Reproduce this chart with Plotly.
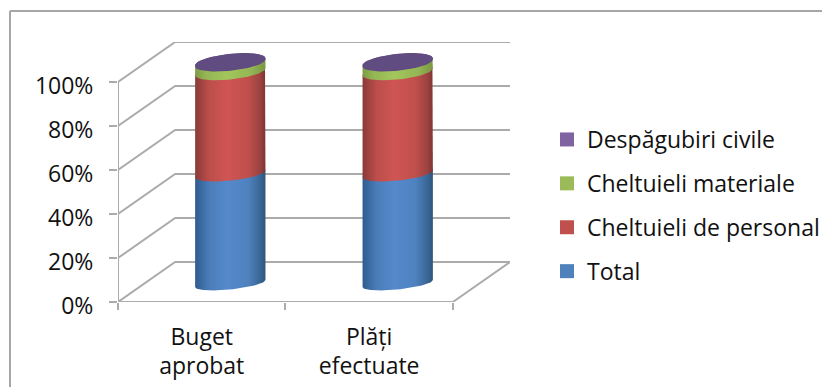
import math
import plotly.graph_objects as go

categories = ["Buget aprobat", "Plăți efectuate"]
label_line1 = ["Buget", "Plăți"]
label_line2 = ["aprobat", "efectuate"]
series_names = ["Total", "Cheltuieli de personal", "Cheltuieli materiale", "Despăgubiri civile"]
total_values = [49.5, 49.5]
personal_values = [46, 46]
materiale_values = [4, 4]
despagubiri_values = [0.5, 0.5]
y_ticks = [0, 20, 40, 60, 80, 100]

FONT = "Open Sans"
TXT = "#111111"
GRID = "#ababab"
legend_colors = ["#4f81bd", "#c0504d", "#9bbb59", "#8064a2"]
side_scales = [
    [[0, "#2f5c90"], [0.2, "#4a7db8"], [0.45, "#5489cb"], [0.75, "#4f82bf"], [0.92, "#3a6797"], [1, "#2d5578"]],
    [[0, "#8a3a38"], [0.2, "#bc4e4b"], [0.45, "#cf5553"], [0.75, "#c14f4c"], [0.92, "#9c4341"], [1, "#7f3432"]],
    [[0, "#7d9a45"], [0.15, "#94b554"], [0.45, "#a3c65c"], [0.8, "#94b554"], [1, "#7a9643"]],
    [[0, "#5f4a80"], [1, "#5f4a80"]],
]
cap_color = "#614c82"

# oblique projection of the 3-D wall, expressed in axis units
depth_x, depth_y = 57 / 167, 40 / 2.2
centre_x = [i + 0.5 + depth_x / 2 for i in range(len(categories))]
base_y = 8.4
scale_y = 1.008
rx = 0.21
tilt = 1.6


def ellipse(cx, cy, b, t0, t1, n=40):
    ts = [t0 + (t1 - t0) * i / n for i in range(n + 1)]
    return ([cx + rx * math.cos(t) for t in ts],
            [cy + tilt * math.cos(t) + b * math.sin(t) for t in ts])


def minor_axis(pct):
    return 2.7 + 0.9 * pct / 100


fig = go.Figure()


def wall(xs, ys):
    fig.add_trace(go.Scatter(x=xs, y=ys, mode="lines", showlegend=False, hoverinfo="skip",
                             cliponaxis=False, line=dict(color=GRID, width=2)))


for v in y_ticks:
    wall([0, depth_x, 2 + depth_x], [v, v + depth_y, v + depth_y])
wall([0, 2], [0, 0])
wall([2, 2 + depth_x], [0, depth_y])
wall([0, 0], [0, 100])

all_series = [total_values, personal_values, materiale_values, despagubiri_values]
for c, cx in enumerate(centre_x):
    acc = 0
    for s, vals in enumerate(all_series):
        lo, hi = acc, acc + vals[c]
        acc = hi
        y0 = base_y + lo * scale_y
        y1 = base_y + hi * scale_y
        xa, ya = ellipse(cx, y0, minor_axis(lo), math.pi, 2 * math.pi)
        xb, yb = ellipse(cx, y1, minor_axis(hi), 0, math.pi)
        fig.add_trace(go.Scatter(
            x=xa + xb, y=ya + yb, mode="lines", fill="toself", line=dict(width=0),
            fillgradient=dict(type="horizontal", colorscale=side_scales[s]),
            showlegend=False, hoverinfo="skip", name=series_names[s]))
    ytop = base_y + acc * scale_y
    xt, yt = ellipse(cx, ytop, minor_axis(acc), 0, 2 * math.pi, n=80)
    fig.add_trace(go.Scatter(x=xt, y=yt, mode="lines", fill="toself", line=dict(width=0),
                             fillcolor=cap_color, showlegend=False, hoverinfo="skip"))

for name, col in reversed(list(zip(series_names, legend_colors))):
    fig.add_trace(go.Scatter(x=[None], y=[None], mode="markers", name=name, legendgroup=name,
                             marker=dict(symbol="square", size=14, color=col)))

# second line of the category labels sits on its own overlaid axis
fig.add_trace(go.Scatter(x=[None], y=[None], xaxis="x2", showlegend=False, hoverinfo="skip"))

fig.update_layout(
    width=822, height=379, autosize=False,
    margin=dict(l=110, r=320, t=34, b=85),
    paper_bgcolor="white", plot_bgcolor="white",
    font=dict(family=FONT, size=23, color=TXT),
    xaxis=dict(range=[0, 2 + depth_x], showgrid=False, zeroline=False, showline=False,
               automargin=False,
               tickmode="array", tickvals=[0.5, 1.5], ticktext=label_line1, ticks="",
               ticklabelstandoff=19, tickfont=dict(family=FONT, size=23, color=TXT),
               minor=dict(tickmode="array", tickvals=[0, 1, 2], ticks="outside", ticklen=7,
                          tickwidth=2, tickcolor=GRID, showgrid=False)),
    xaxis2=dict(range=[0, 2 + depth_x], overlaying="x", anchor="y", side="bottom",
                showgrid=False, zeroline=False, showline=False, automargin=False,
                tickmode="array", tickvals=[0.5, 1.5], ticktext=label_line2, ticks="",
                ticklabelstandoff=48, tickfont=dict(family=FONT, size=23, color=TXT)),
    yaxis=dict(range=[0, 260 / 2.2], showgrid=False, zeroline=False, showline=False,
               automargin=False,
               tickmode="array", tickvals=y_ticks, ticktext=[f"{v}%" for v in y_ticks],
               ticks="outside", ticklen=8, tickwidth=2, tickcolor=GRID, ticklabelstandoff=11,
               ticklabelshift=4, tickfont=dict(family=FONT, size=23, color=TXT)),
    legend=dict(xref="container", yref="container", x=(547 - 8) / 822, xanchor="left",
                y=1 - (118 - 8) / 379, yanchor="top",
                font=dict(family=FONT, size=23, color=TXT), tracegroupgap=11,
                bgcolor="rgba(0,0,0,0)", itemclick=False, itemdoubleclick=False),
    shapes=[
        dict(type="line", xref="paper", yref="paper", x0=-108 / 392, x1=712 / 392,
             y0=(302 - 11) / 260, y1=(302 - 11) / 260, line=dict(color="#a6a6a6", width=2)),
        dict(type="line", xref="paper", yref="paper", x0=-108 / 392, x1=-108 / 392,
             y0=(302 - 11) / 260, y1=-85 / 260, line=dict(color="#a6a6a6", width=2)),
    ],
)
fig.write_html("out.html")
